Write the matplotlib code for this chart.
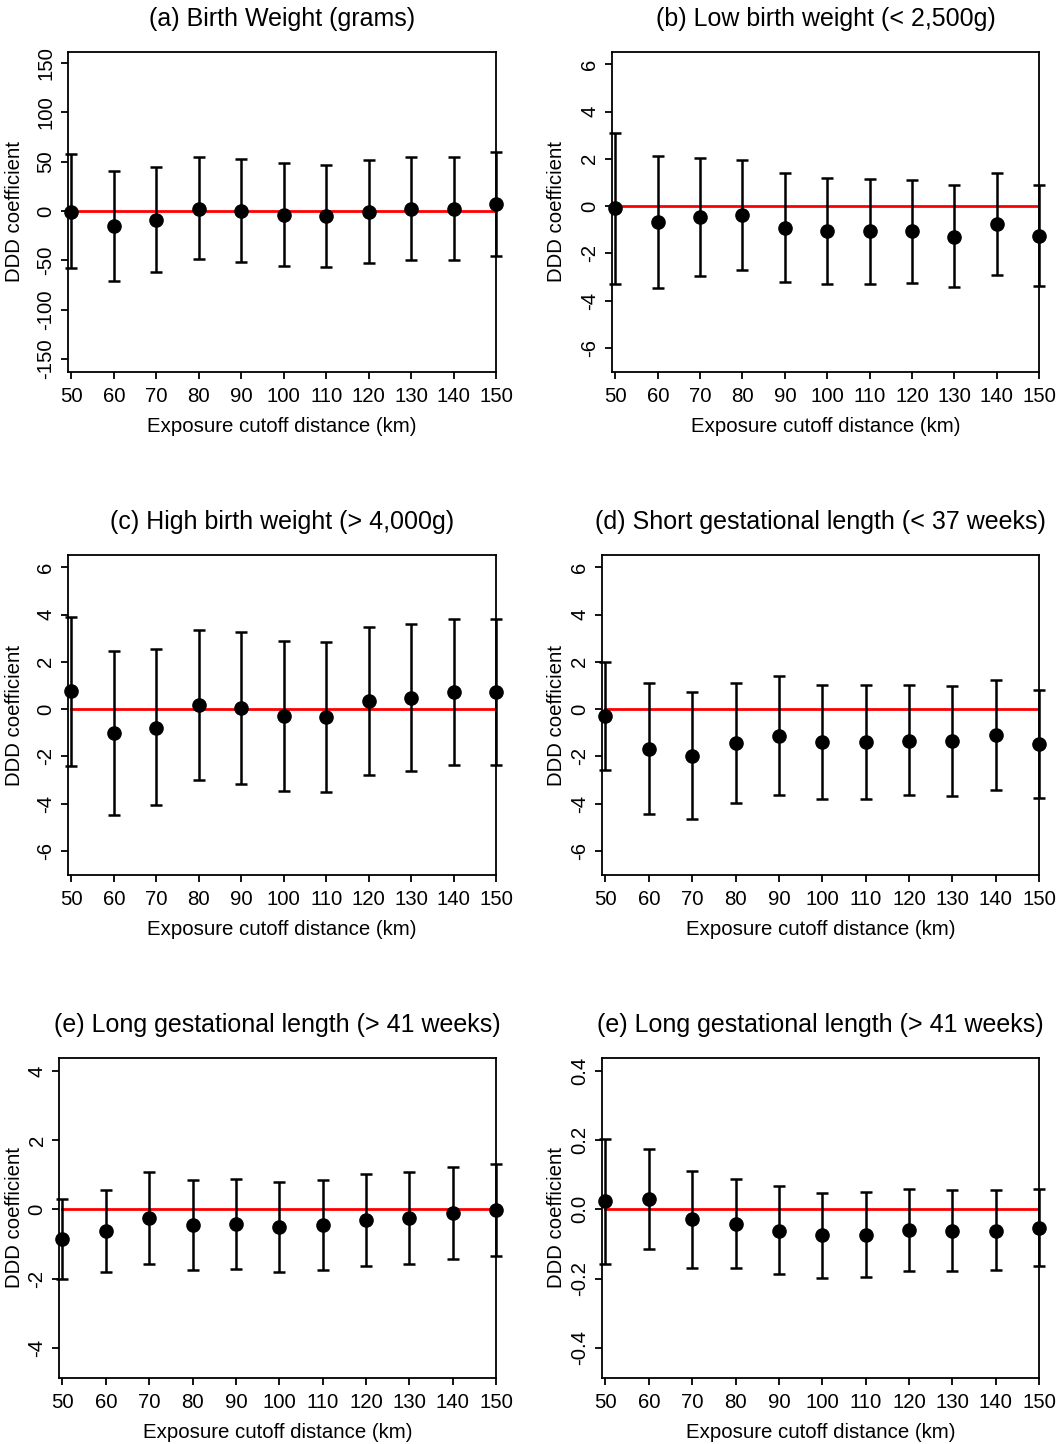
import matplotlib
matplotlib.use("Agg")
import matplotlib.pyplot as plt
from matplotlib import rcParams

rcParams.update({
    "font.family": ["Liberation Sans", "DejaVu Sans"],
    "axes.unicode_minus": False,
    "axes.linewidth": 1.3,
    "xtick.major.width": 1.3,
    "ytick.major.width": 1.3,
    "xtick.major.size": 5,
    "ytick.major.size": 5,
})

W, H = 1057, 1444

dist = [50, 60, 70, 80, 90, 100, 110, 120, 130, 140, 150]

# (a) Birth weight (grams)
bw_est = [-0.5, -15.3, -8.7, 2.3, 0.3, -4.3, -5.0, -1.0, 2.3, 1.7, 6.7]
bw_hi = [57.3, 40.7, 44.7, 54.7, 53.0, 48.3, 46.7, 51.3, 55.0, 54.7, 59.3]
bw_lo = [-58.0, -71.0, -61.7, -48.7, -51.3, -55.7, -56.7, -53.0, -49.7, -49.7, -46.0]

# (b) Low birth weight
lbw_est = [-0.08, -0.69, -0.48, -0.38, -0.93, -1.07, -1.07, -1.07, -1.29, -0.75, -1.26]
lbw_hi = [3.08, 2.11, 2.02, 1.94, 1.39, 1.17, 1.16, 1.09, 0.89, 1.40, 0.88]
lbw_lo = [-3.30, -3.47, -2.94, -2.69, -3.22, -3.30, -3.30, -3.24, -3.44, -2.91, -3.37]

# (c) High birth weight
hbw_est = [0.75, -1.02, -0.78, 0.17, 0.06, -0.30, -0.34, 0.35, 0.47, 0.73, 0.71]
hbw_hi = [3.90, 2.47, 2.56, 3.35, 3.25, 2.90, 2.85, 3.49, 3.59, 3.83, 3.80]
hbw_lo = [-2.39, -4.50, -4.07, -2.98, -3.15, -3.46, -3.50, -2.77, -2.64, -2.37, -2.37]

# (d) Short gestational length
sgl_est = [-0.30, -1.69, -1.99, -1.44, -1.12, -1.40, -1.40, -1.33, -1.36, -1.10, -1.48]
sgl_hi = [1.99, 1.10, 0.71, 1.10, 1.40, 1.02, 1.02, 1.03, 0.99, 1.24, 0.79]
sgl_lo = [-2.58, -4.46, -4.65, -3.98, -3.63, -3.80, -3.80, -3.64, -3.66, -3.42, -3.77]

# (e) Long gestational length
lgl_est = [-0.86, -0.63, -0.26, -0.45, -0.42, -0.52, -0.45, -0.32, -0.26, -0.12, -0.01]
lgl_hi = [0.30, 0.57, 1.08, 0.86, 0.88, 0.79, 0.85, 1.03, 1.08, 1.21, 1.31]
lgl_lo = [-2.01, -1.81, -1.59, -1.75, -1.71, -1.81, -1.74, -1.63, -1.57, -1.43, -1.34]

# (e) Long gestational length, second version
lgl2_est = [0.023, 0.029, -0.029, -0.041, -0.062, -0.074, -0.073, -0.060, -0.062, -0.062, -0.053]
lgl2_hi = [0.204, 0.174, 0.110, 0.088, 0.066, 0.048, 0.049, 0.058, 0.056, 0.055, 0.060]
lgl2_lo = [-0.159, -0.114, -0.168, -0.170, -0.186, -0.197, -0.195, -0.177, -0.177, -0.176, -0.164]

titles = [
    "(a) Birth Weight (grams)",
    "(b) Low birth weight (< 2,500g)",
    "(c) High birth weight (> 4,000g)",
    "(d) Short gestational length (< 37 weeks)",
    "(e) Long gestational length (> 41 weeks)",
    "(e) Long gestational length (> 41 weeks)",
]

FS = 14.7
fig = plt.figure(figsize=(W / 100, H / 100), dpi=100)


def panel(box, est, lo, hi, title, ylim, yticks, ylabels, ylab_x):
    left, right, top, bottom = box
    ax = fig.add_axes([left / W, 1 - bottom / H, (right - left) / W, (bottom - top) / H])
    ax.plot([dist[0], dist[-1]], [0, 0], color="red", lw=2, zorder=1)
    yerr = [[e - l for e, l in zip(est, lo)], [h - e for e, h in zip(est, hi)]]
    eb = ax.errorbar(dist, est, yerr=yerr, fmt="o", color="black", ms=9.5,
                     elinewidth=1.8, capsize=4, capthick=1.8, zorder=3)
    for art in eb.get_children():
        art.set_clip_on(False)
    ax.set_xlim(49.2, 150)
    ax.set_ylim(*ylim)
    ax.set_xticks(dist)
    ax.set_yticks(yticks)
    ax.set_yticklabels(ylabels, rotation=90, va="center")
    ax.tick_params(labelsize=FS)
    ax.tick_params(axis="x", pad=6)
    ax.tick_params(axis="y", pad=4)
    ax.set_xlabel("Exposure cutoff distance (km)", fontsize=FS, labelpad=8)
    ax.set_title(title, fontsize=18, pad=19)
    fig.text(ylab_x / W, 1 - (top + bottom) / 2 / H, "DDD coefficient",
             rotation=90, ha="center", va="center", fontsize=FS)
    return ax


six = [-6, -4, -2, 0, 2, 4, 6]
panel((68, 496, 52, 372), bw_est, bw_lo, bw_hi, titles[0], (-163, 161),
      [-150, -100, -50, 0, 50, 100, 150], ["-150", "-100", "-50", "0", "50", "100", "150"], 15)
panel((612, 1039, 52, 372), lbw_est, lbw_lo, lbw_hi, titles[1], (-7.02, 6.52),
      six, [str(v) for v in six], 557)
panel((68, 496, 555, 875), hbw_est, hbw_lo, hbw_hi, titles[2], (-7.02, 6.52),
      six, [str(v) for v in six], 15)
panel((602, 1039, 555, 875), sgl_est, sgl_lo, sgl_hi, titles[3], (-7.02, 6.52),
      six, [str(v) for v in six], 557)
panel((59, 496, 1058, 1378), lgl_est, lgl_lo, lgl_hi, titles[4], (-4.87, 4.37),
      [-4, -2, 0, 2, 4], ["-4", "-2", "0", "2", "4"], 15)
panel((602, 1039, 1058, 1378), lgl2_est, lgl2_lo, lgl2_hi, titles[5], (-0.487, 0.437),
      [-0.4, -0.2, 0, 0.2, 0.4], ["-0.4", "-0.2", "0.0", "0.2", "0.4"], 557)

fig.savefig("out.png", dpi=100, facecolor="white")
